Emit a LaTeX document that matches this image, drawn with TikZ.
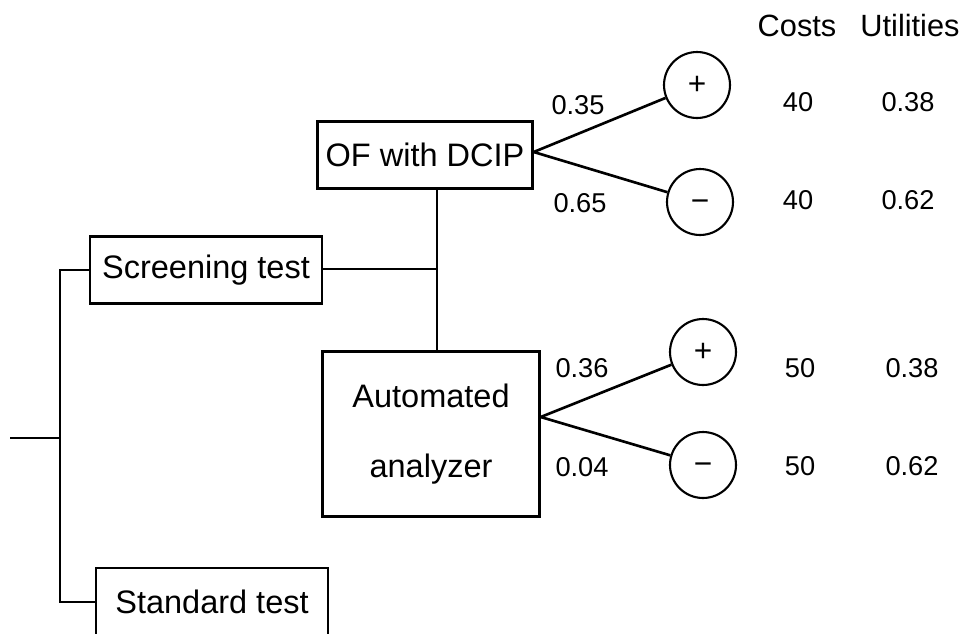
\documentclass[tikz,border=0pt]{standalone}
\usepackage{fontspec}
\setmainfont{Liberation Sans}
\usepackage{tikz}
\usetikzlibrary{positioning}
\definecolor{EdgeColor}{RGB}{0,0,0}
\tikzset{
  % Strategy box
  choice/.style={
    rectangle,
    draw=EdgeColor,
    line width=1.4pt,
    inner sep=0pt,
    font=\fontsize{18.5}{22}\selectfont
  },
  % Chance node (test outcome)
  chance/.style={
    circle,
    draw=EdgeColor,
    line width=1.2pt,
    minimum size=1.32cm,
    inner sep=0pt,
    font=\fontsize{18}{20}\selectfont
  },
  % Tree branch
  branch/.style={
    draw=EdgeColor,
    line width=1.5pt
  },
  % Probability / value label
  prob/.style={
    font=\fontsize{15.5}{18}\selectfont,
    inner sep=0pt
  },
  % Column heading
  colhead/.style={
    font=\fontsize{17.5}{21}\selectfont,
    inner sep=0pt
  }
}

\begin{document}
\begin{tikzpicture}[x=0.02cm, y=-0.02cm]
  \useasboundingbox (0,0) rectangle (963,633);
  % Strategy boxes
  \node[choice, minimum width=4.64cm, minimum height=1.34cm] (screen) at (206,270) {Screening test};
  \node[choice, minimum width=4.64cm, minimum height=1.36cm] (standard) at (212,602) {Standard test};
  \node[choice, minimum width=4.3cm, minimum height=1.34cm] (ofdcip) at (425,155) {OF with DCIP};
  \node[choice, minimum width=4.34cm, minimum height=3.3cm, align=center] (auto) at (431,434) {Automated\\[18pt]analyzer};
  % Junction points
  \coordinate (root) at (10,438);
  \coordinate (split) at (60,438);
  \coordinate (mid) at (437,269);
  % Chance nodes
  \node[chance] (posA) at (697,85) {+};
  \node[chance] (negA) at (700,202) {\vphantom{+}−};
  \node[chance] (posB) at (703,352) {+};
  \node[chance] (negB) at (703,465) {\vphantom{+}−};
  % Branches
  \draw[branch] (root) -- (split);
  \draw[branch] (screen.west) -| (split) |- (standard.west);
  \draw[branch] (screen.east |- mid) -- (mid);
  \draw[branch] (ofdcip.south -| mid) -- (auto.north -| mid);
  \draw[branch] ([yshift=0.06cm]ofdcip.east) -- (posA);
  \draw[branch] ([yshift=0.06cm]ofdcip.east) -- (negA);
  \draw[branch] ([yshift=0.34cm]auto.east) -- (posB);
  \draw[branch] ([yshift=0.34cm]auto.east) -- (negB);
  % Probabilities
  \node[prob] (pa1) at (578,105) {0.35};
  \node[prob] (pa2) at (580,203) {0.65};
  \node[prob] (pb1) at (582,368) {0.36};
  \node[prob] (pb2) at (582,467) {0.04};
  % Costs and utilities
  \node[colhead] (costs) at (797,26) {Costs};
  \node[colhead] (utils) at (910,26) {Utilities};
  \node[prob] (ca1) at (798,102) {40};
  \node[prob] (ua1) at (908,102) {0.38};
  \node[prob] (ca2) at (798,200) {40};
  \node[prob] (ua2) at (908,200) {0.62};
  \node[prob] (cb1) at (800,368) {50};
  \node[prob] (ub1) at (912,368) {0.38};
  \node[prob] (cb2) at (800,466) {50};
  \node[prob] (ub2) at (912,466) {0.62};
\end{tikzpicture}
\end{document}
